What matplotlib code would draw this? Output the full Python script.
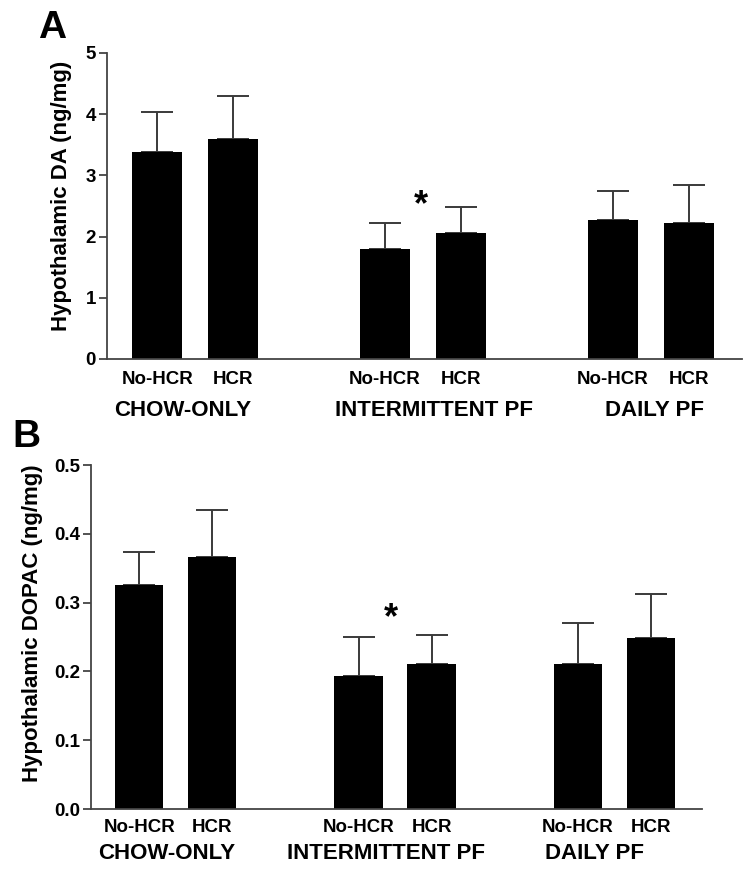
import numpy as np
import matplotlib
matplotlib.use("Agg")
import matplotlib.pyplot as plt
from matplotlib.transforms import blended_transform_factory

plt.rcParams['font.family'] = ['Liberation Sans', 'DejaVu Sans']
plt.rcParams['font.weight'] = 'bold'

# data
bar_labels = ["No-HCR", "HCR", "No-HCR", "HCR", "No-HCR", "HCR"]
groups = ["CHOW-ONLY", "INTERMITTENT PF", "DAILY PF"]
positions = [0, 1, 3, 4, 6, 7]

da_mean = [3.39, 3.60, 1.79, 2.06, 2.27, 2.23]
da_sem = [0.65, 0.69, 0.44, 0.43, 0.47, 0.62]

dopac_mean = [0.325, 0.367, 0.193, 0.211, 0.211, 0.248]
dopac_sem = [0.048, 0.068, 0.057, 0.042, 0.059, 0.065]

fig = plt.figure(figsize=(7.51, 8.73), dpi=100)
axA = fig.add_axes([0.1425, 0.5888, 0.8455, 0.3505])
axB = fig.add_axes([0.1212, 0.0733, 0.8136, 0.3940])


def draw(ax, means, sems, ylim, yticks, ylabel, label_xy, star, group_x, group_y, tick_fmt, xpad):
    ax.bar(positions, means, width=0.66, color="black", zorder=2)
    ax.errorbar(positions, means, yerr=[np.zeros(len(sems)), sems], fmt="none",
                ecolor="#3a3a3a", elinewidth=1.4, capsize=11.5, capthick=1.4, zorder=1)
    ax.set_xlim(-0.66, 7.7)
    ax.set_ylim(*ylim)
    ax.set_yticks(yticks)
    ax.set_yticklabels([tick_fmt.format(t) for t in yticks], fontsize=13.5, fontweight="bold")
    ax.set_xticks(positions)
    ax.set_xticklabels(bar_labels, fontsize=13.5, fontweight="bold")
    ax.tick_params(axis="x", length=0, pad=xpad)
    ax.tick_params(axis="y", length=6, width=1.3, color="#444444", pad=2)
    for s in ["top", "right"]:
        ax.spines[s].set_visible(False)
    for s in ["left", "bottom"]:
        ax.spines[s].set_linewidth(1.3)
        ax.spines[s].set_color("#444444")
    ax.set_ylabel(ylabel, fontsize=16, fontweight="bold")
    ax.yaxis.set_label_coords(*label_xy)
    ax.text(star[0], star[1], "*", fontsize=26, fontweight="bold", ha="center", va="center")
    tr = blended_transform_factory(ax.transData, ax.transAxes)
    for gx, g in zip(group_x, groups):
        ax.text(gx, group_y, g, transform=tr, fontsize=16, fontweight="bold",
                ha="center", va="center")


draw(axA, da_mean, da_sem, (0, 5), [0, 1, 2, 3, 4, 5], "Hypothalamic DA (ng/mg)",
     (-0.055, 0.533), (3.47, 2.50), [0.33, 3.64, 6.55], -0.167, "{:g}", 9)
draw(axB, dopac_mean, dopac_sem, (0, 0.5), [0.0, 0.1, 0.2, 0.3, 0.4, 0.5],
     "Hypothalamic DOPAC (ng/mg)", (-0.079, 0.54), (3.44, 0.276), [0.37, 3.38, 6.23],
     -0.128, "{:.1f}", 7)

fig.text(52 / 751, 1 - 28 / 873, "A", fontsize=28, fontweight="bold", ha="center", va="center")
fig.text(26 / 751, 1 - 437 / 873, "B", fontsize=28, fontweight="bold", ha="center", va="center")

fig.savefig("out.png", dpi=100)
